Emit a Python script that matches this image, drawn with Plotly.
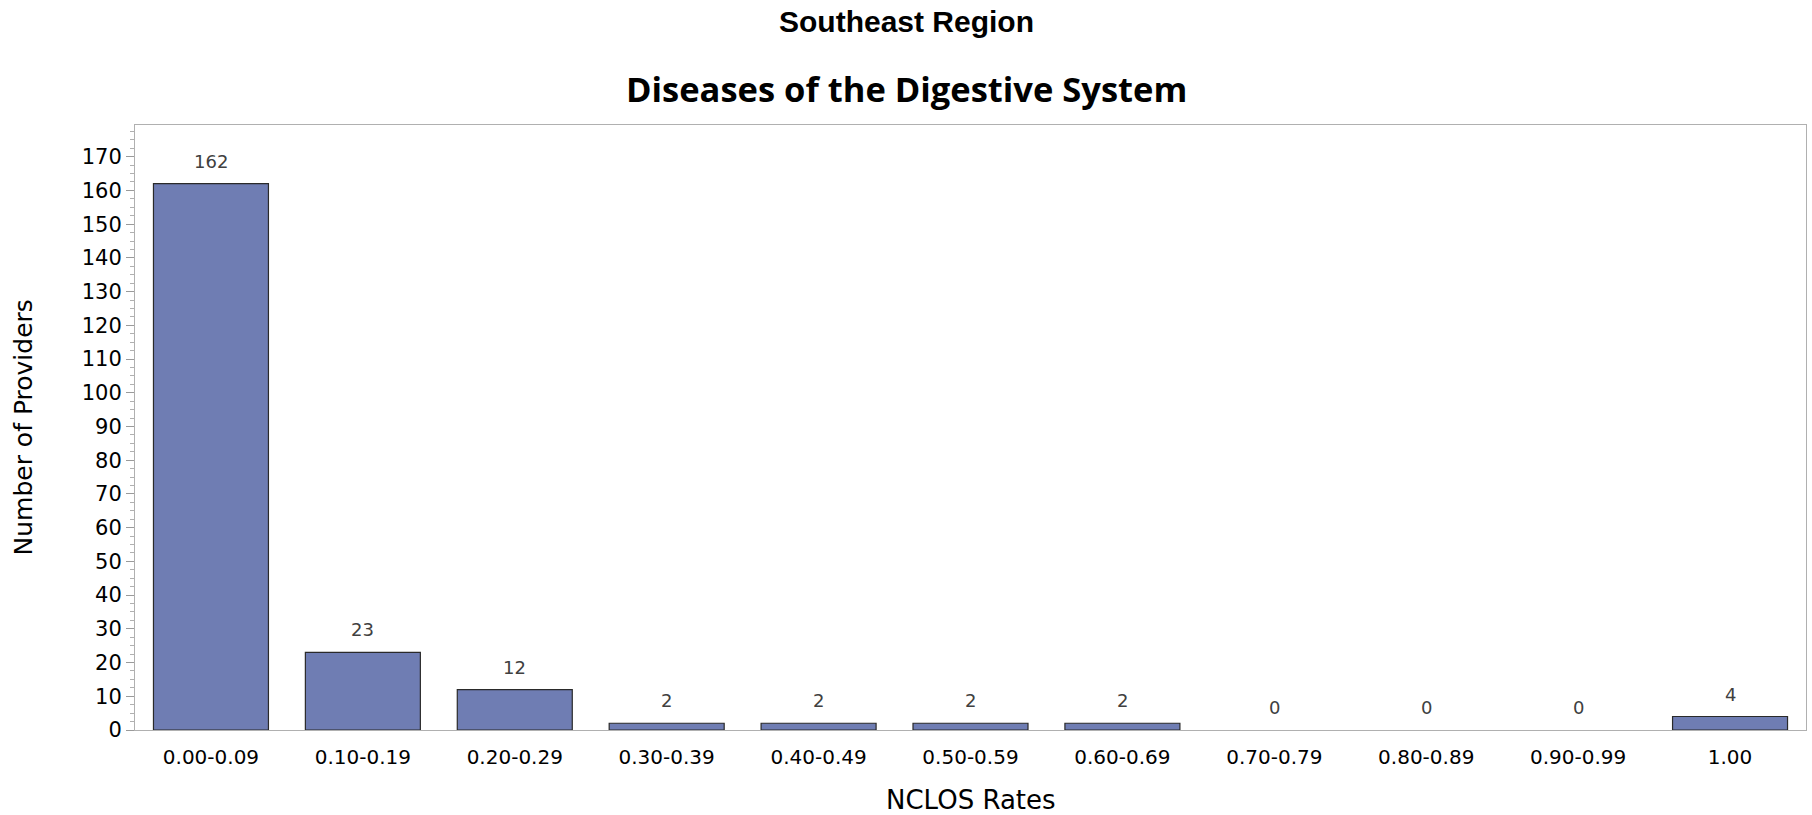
import plotly.graph_objects as go

categories = ["0.00-0.09", "0.10-0.19", "0.20-0.29", "0.30-0.39", "0.40-0.49",
              "0.50-0.59", "0.60-0.69", "0.70-0.79", "0.80-0.89", "0.90-0.99", "1.00"]
providers = [162, 23, 12, 2, 2, 2, 2, 0, 0, 0, 4]

super_title = "Southeast Region"
chart_title = "Diseases of the Digestive System"
x_title = "NCLOS Rates"
y_title = "Number of Providers"
y_ticks = list(range(0, 171, 10))

W, H = 1812, 815
ML, MR, MT, MB = 135, 6, 125, 85
PW = W - ML - MR
PH = H - MT - MB
page_cx = (W / 2 - ML) / PW

fig = go.Figure()
fig.add_trace(go.Bar(
    x=categories, y=providers,
    marker=dict(color="#6F7DB3",
                line=dict(color="#2a2a2a", width=[1.2 if v > 0 else 0 for v in providers])),
    hoverinfo="x+y",
))

annotations = []
for i, v in enumerate(providers):
    annotations.append(dict(x=i, y=v, xref="x", yref="y", text=str(v), showarrow=False,
                            yanchor="bottom", yshift=10,
                            font=dict(family="DejaVu Sans", size=18, color="#404040")))
annotations.append(dict(x=page_cx, y=1 + 104 / PH, xref="paper", yref="paper", text=super_title,
                        showarrow=False, xanchor="center", yanchor="middle",
                        font=dict(family="Liberation Sans", size=30, color="#000000", weight="bold")))
annotations.append(dict(x=page_cx, y=1 + 37 / PH, xref="paper", yref="paper", text=chart_title,
                        showarrow=False, xanchor="center", yanchor="middle",
                        font=dict(family="Open Sans", size=34.5, color="#000000", weight="bold")))
annotations.append(dict(x=0.5, y=-70 / PH, xref="paper", yref="paper", text=x_title,
                        showarrow=False, xanchor="center", yanchor="middle",
                        font=dict(family="DejaVu Sans", size=26, color="#000000")))
annotations.append(dict(x=(23 - ML) / PW, y=0.5, xref="paper", yref="paper", text=y_title,
                        showarrow=False, xanchor="center", yanchor="middle", textangle=-90,
                        font=dict(family="DejaVu Sans", size=25, color="#000000")))

fig.update_layout(
    width=W, height=H,
    margin=dict(l=ML, r=MR, t=MT, b=MB, pad=0),
    paper_bgcolor="white", plot_bgcolor="white",
    bargap=0.243,
    showlegend=False,
    annotations=annotations,
    font=dict(family="DejaVu Sans", color="#000000"),
)
fig.update_xaxes(
    type="category", range=[-0.5, len(categories) - 0.5],
    showline=True, linecolor="#B0B0B0", linewidth=1, mirror=True,
    ticks="outside", ticklen=9, tickcolor="rgba(0,0,0,0)",
    tickfont=dict(family="DejaVu Sans", size=20, color="#000000"),
    showgrid=False, zeroline=False,
)
fig.update_yaxes(
    range=[0, 179.4], tickvals=y_ticks,
    showline=True, linecolor="#B0B0B0", linewidth=1, mirror=True,
    ticks="outside", ticklen=8, tickcolor="#9A9A9A", tickwidth=1,
    minor=dict(dtick=2.5, ticks="outside", ticklen=4, tickcolor="#B0B0B0", tickwidth=1, showgrid=False),
    tickfont=dict(family="DejaVu Sans", size=21, color="#000000"),
    showgrid=False, zeroline=False,
)

fig.write_html("out.html", config={"displayModeBar": False},
               post_script="document.body.style.margin='0';")
